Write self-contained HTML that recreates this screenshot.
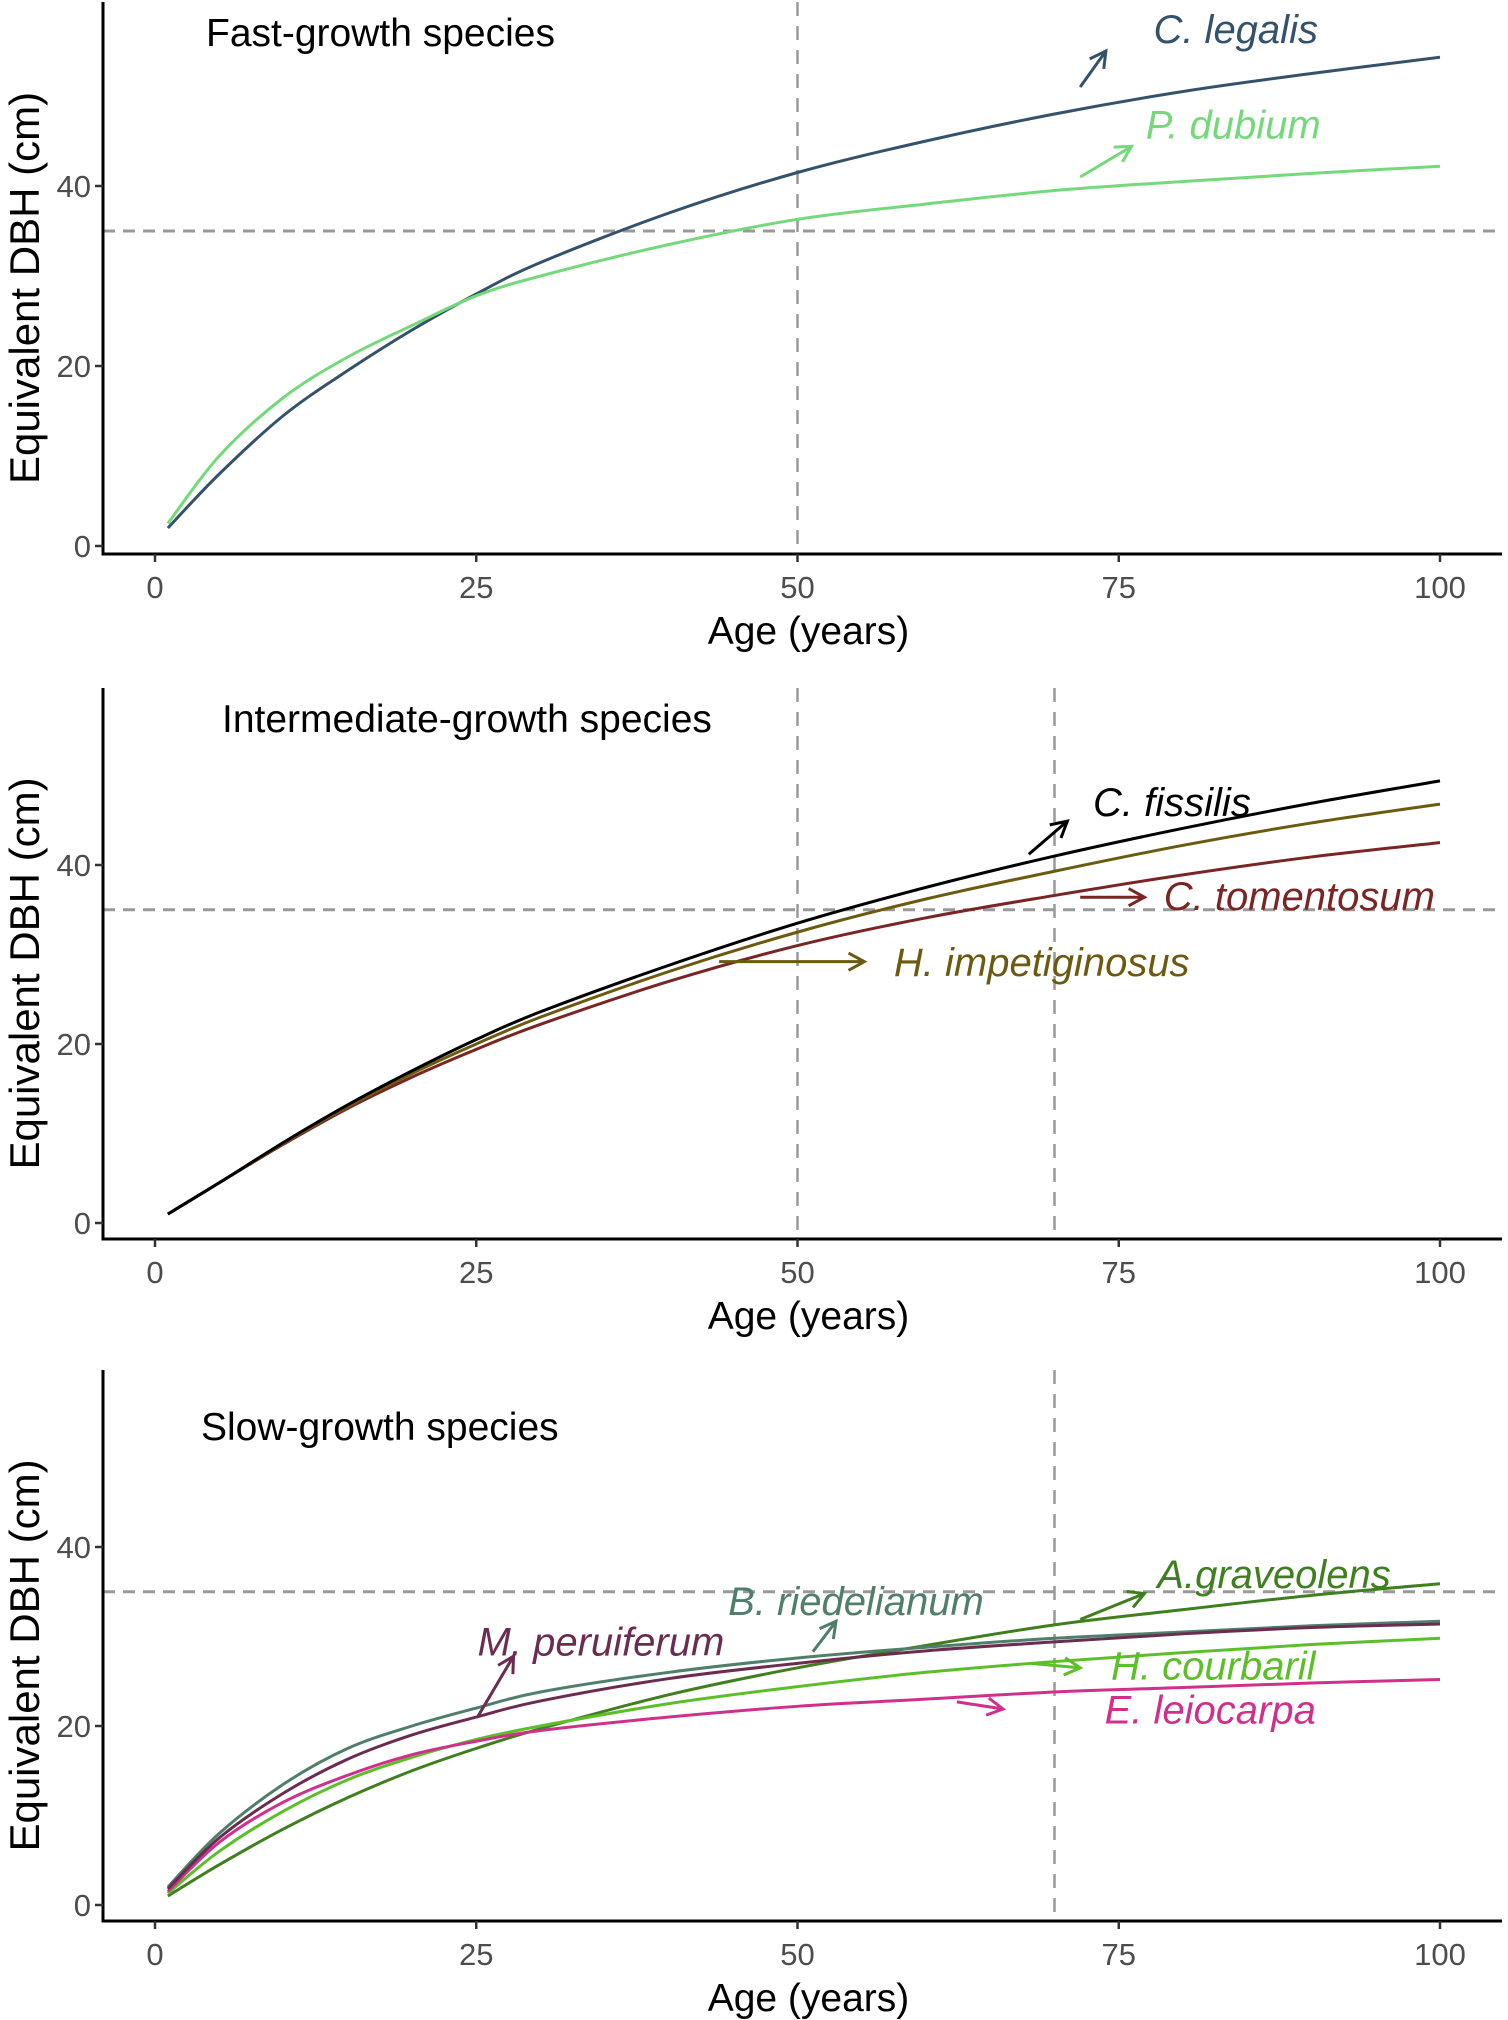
<!DOCTYPE html>
<html><head><meta charset="utf-8"><style>
body{margin:0;background:#fff}
svg{display:block}
text{font-family:"Liberation Sans",sans-serif}
</style></head><body>
<svg id="chart" width="1508" height="2020" viewBox="0 0 1508 2020"></svg>
<script>
const ages=[1,5,10,15,20,25,30,40,50,60,70,80,90,100];
const xTicks=[0,25,50,75,100];
const yTicks=[0,20,40];
const cLegalis=[2,8,14.5,19.5,24,28,31.5,37,41.5,45,48,50.5,52.5,54.3];
const pDubium=[2.5,10,16.5,21,24.5,27.8,30,33.5,36.3,38,39.5,40.5,41.4,42.2];
const cFissilis=[1,4.5,9,13.2,17,20.5,23.6,28.8,33.5,37.5,41,44.1,46.9,49.4];
const hImpetiginosus=[1,4.5,8.9,13,16.7,20,23,28.1,32.5,36.2,39.3,42.2,44.7,46.8];
const cTomentosum=[1,4.5,8.8,12.8,16.3,19.4,22.2,27,31,34.1,36.6,38.9,40.9,42.5];
const bRiedelianum=[2,8,13.5,17.5,20,22,23.8,26,27.6,28.8,29.8,30.5,31.2,31.7];
const mPeruiferum=[1.8,7.5,12.5,16.3,19,21,22.8,25.3,27,28.4,29.4,30.3,31,31.4];
const aGraveolens=[1,4.5,8.5,12,15,17.5,19.7,23.5,26.5,29,31.3,33,34.6,35.9];
const hCourbaril=[1.3,6,10.5,14,16.5,18.5,20,22.5,24.4,26,27.2,28.2,29.1,29.8];
const eLeiocarpa=[1.5,7,11.5,14.5,16.8,18.3,19.5,21,22.2,23,23.8,24.3,24.8,25.2];

const panels=[
 {name:'fast',title:'Fast-growth species',top:2,y0:546,y40:186,axis:554,vlines:[50],
  series:[{n:'c-legalis',v:cLegalis,c:'#34526b'},{n:'p-dubium',v:pDubium,c:'#74d97a'}],
  labels:[{t:'C. legalis',x:77.7,y:55.9,c:'#34526b',a:[72,51,74,55]},{t:'P. dubium',x:77.1,y:45.3,c:'#74d97a',a:[72,41,76,44.4]}]},
 {name:'intermediate',title:'Intermediate-growth species',top:688,y0:1223,y40:865,axis:1239,vlines:[50,70],
  series:[{n:'c-tomentosum',v:cTomentosum,c:'#7a2424'},{n:'h-impetiginosus',v:hImpetiginosus,c:'#6b5a10'},{n:'c-fissilis',v:cFissilis,c:'#000'}],
  labels:[{t:'C. fissilis',x:73,y:45.5,c:'#000',a:[68,41.2,71,44.9]},{t:'C. tomentosum',x:78.5,y:35,c:'#7a2424',a:[72,36.4,77,36.4]},{t:'H. impetiginosus',x:57.5,y:27.6,c:'#6b5a10',a:[43.9,29.2,55.2,29.2]}]},
 {name:'slow',title:'Slow-growth species',top:1370,y0:1905,y40:1547,axis:1921,vlines:[70],
  series:[{n:'a-graveolens',v:aGraveolens,c:'#3f7f1f'},{n:'h-courbaril',v:hCourbaril,c:'#5cbf2a'},{n:'e-leiocarpa',v:eLeiocarpa,c:'#d0308c'},{n:'b-riedelianum',v:bRiedelianum,c:'#4f7f6a'},{n:'m-peruiferum',v:mPeruiferum,c:'#6b2c4f'}],
  labels:[{t:'A.graveolens',x:78,y:35.4,c:'#3f7f1f',a:[72,31.9,77,34.8]},{t:'B. riedelianum',x:44.6,y:32.4,c:'#4f7f6a',a:[51.2,28.3,53,31.7]},{t:'M. peruiferum',x:25.1,y:27.9,c:'#6b2c4f',a:[25.1,21,27.9,27.8]},{t:'H. courbaril',x:74.4,y:25.2,c:'#5cbf2a',a:[68.2,27,72,26.5]},{t:'E. leiocarpa',x:73.9,y:20.3,c:'#d0308c',a:[62.4,22.7,66,21.9]}]}
];
const NS='http://www.w3.org/2000/svg';
const svg=document.getElementById('chart');
function mk(tag,at,parent){const e=document.createElementNS(NS,tag);for(const k in at)e.setAttribute(k,at[k]);(parent||svg).appendChild(e);return e;}
const X=a=>155+a*(1440-155)/100;
const SL=103,SR=1502;
panels.forEach(p=>{
 const Y=v=>p.y0+v*(p.y40-p.y0)/40;
 const g=mk('g',{});
 
 
 const h=mk('line',{x1:SL,x2:SR,y1:Y(35),y2:Y(35),stroke:'#999','stroke-width':3,'stroke-dasharray':'12,8'},g);
 
 
 p.vlines.forEach(a=>{const l=mk('line',{x1:X(a),x2:X(a),y1:p.top,y2:p.axis,stroke:'#999','stroke-width':2.5,'stroke-dasharray':'14,10'},g);
  
  });
 p.series.forEach(s=>{
  const pts=ages.map((a,i)=>[X(a),Y(s.v[i])]);
  let d='M'+pts[0][0]+','+pts[0][1];
  for(let i=0;i<pts.length-1;i++){const p0=pts[i-1]||pts[i],p1=pts[i],p2=pts[i+1],p3=pts[i+2]||p2;
   d+=' C'+(p1[0]+(p2[0]-p0[0])/6)+','+(p1[1]+(p2[1]-p0[1])/6)+' '+(p2[0]-(p3[0]-p1[0])/6)+','+(p2[1]-(p3[1]-p1[1])/6)+' '+p2[0]+','+p2[1];}
  const e=mk('path',{d:d,fill:'none',stroke:s.c,'stroke-width':3},g);
  
  
 });
 p.labels.forEach(l=>{
  const t=mk('text',{x:X(l.x),y:Y(l.y),fill:l.c,'font-size':40,'font-style':'italic'},g);t.textContent=l.t;
  
  
  const x1=X(l.a[0]),y1=Y(l.a[1]),x2=X(l.a[2]),y2=Y(l.a[3]);
  const ang=Math.atan2(y2-y1,x2-x1),L=18;
  const d='M'+x1+','+y1+' L'+x2+','+y2+' M'+(x2-L*Math.cos(ang-0.5))+','+(y2-L*Math.sin(ang-0.5))+' L'+x2+','+y2+' L'+(x2-L*Math.cos(ang+0.5))+','+(y2-L*Math.sin(ang+0.5));
  const ar=mk('path',{d:d,fill:'none',stroke:l.c,'stroke-width':3},g);
  
  
 });
 const sp=mk('line',{x1:SL,x2:SL,y1:p.top,y2:p.axis,stroke:'#000','stroke-width':3},g);
 
 
 const xa=mk('line',{x1:SL-1.5,x2:SR,y1:p.axis,y2:p.axis,stroke:'#000','stroke-width':3},g);
 
 
 yTicks.forEach(v=>{mk('line',{x1:SL-8,x2:SL,y1:Y(v),y2:Y(v),stroke:'#333','stroke-width':2.5},g);
  const t=mk('text',{x:SL-12,y:Y(v)+11,'text-anchor':'end','font-size':31,fill:'#4d4d4d'},g);t.textContent=v;
  
  });
 xTicks.forEach(v=>{mk('line',{x1:X(v),x2:X(v),y1:p.axis,y2:p.axis+8,stroke:'#333','stroke-width':2.5},g);
  const t=mk('text',{x:X(v),y:p.axis+44,'text-anchor':'middle','font-size':31,fill:'#4d4d4d'},g);t.textContent=v;
  
  });
 const xt=mk('text',{x:(SL+SR)/2+6,y:p.axis+90,'text-anchor':'middle','font-size':39,fill:'#000'},g);xt.textContent='Age (years)';
 
 
 const cy=(p.top+p.axis)/2+10;
 const yt=mk('text',{x:0,y:0,transform:'translate(39,'+cy+') rotate(-90)','text-anchor':'middle','font-size':42,fill:'#000'},g);yt.textContent='Equivalent DBH (cm)';
 
 
 const pt=mk('text',{x:p.name==='intermediate'?222:p.name==='slow'?201:206,y:p.top+(p.name==='slow'?70:44),'font-size':39,fill:'#000'},g);pt.textContent=p.title;
 
 
});
</script>
</body></html>
